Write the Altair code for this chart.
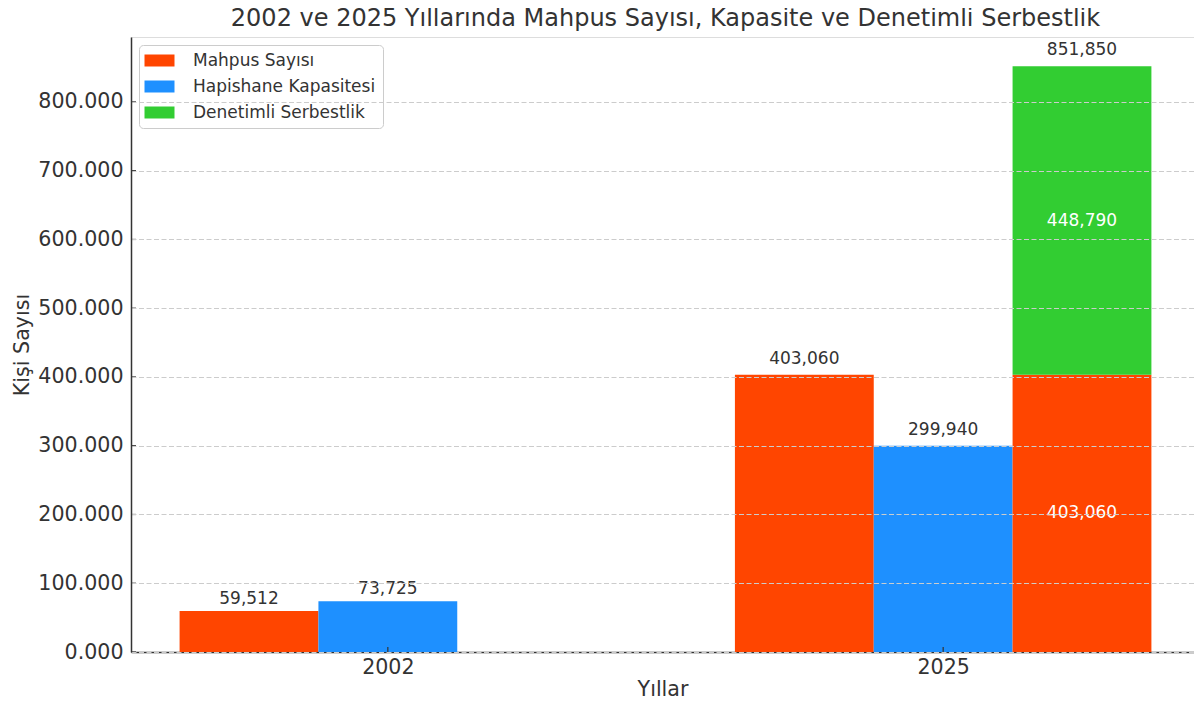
import altair as alt
import pandas as pd

# ---------------- data ----------------
years = ["2002", "2025"]
series = ["Mahpus Sayısı", "Hapishane Kapasitesi", "Denetimli Serbestlik"]
colors = ["#FF4500", "#1E90FF", "#32CD32"]
mahpus = [59512, 403060]
kapasite = [73725, 299940]
denetimli = [None, 448790]
y_ticks = [0, 100000, 200000, 300000, 400000, 500000, 600000, 700000, 800000]

BAR_W = 0.25
TEXT = "#333333"
FONT = "DejaVu Sans"
# label lift above bar tops, in data units, per year group (as in the original)
LABEL_PAD = [5000, 10000]

bars = []
labels_top = []
labels_in = []
for i, yr in enumerate(years):
    bars.append(dict(gi=i, slot=-1, series=series[0], y0=0, y1=mahpus[i]))
    labels_top.append(dict(gi=i, slot=-1, v=mahpus[i], txt=f"{mahpus[i]:,}"))
    bars.append(dict(gi=i, slot=0, series=series[1], y0=0, y1=kapasite[i]))
    labels_top.append(dict(gi=i, slot=0, v=kapasite[i], txt=f"{kapasite[i]:,}"))
    if denetimli[i] is not None:
        tot = mahpus[i] + denetimli[i]
        bars.append(dict(gi=i, slot=1, series=series[0], y0=0, y1=mahpus[i]))
        bars.append(dict(gi=i, slot=1, series=series[2], y0=mahpus[i], y1=tot))
        labels_top.append(dict(gi=i, slot=1, v=tot, txt=f"{tot:,}"))
        labels_in.append(dict(gi=i, slot=1, v=mahpus[i] / 2, txt=f"{mahpus[i]:,}"))
        labels_in.append(dict(gi=i, slot=1, v=mahpus[i] + denetimli[i] / 2, txt=f"{denetimli[i]:,}"))

bars_df = pd.DataFrame(bars)
top_df = pd.DataFrame(labels_top)
top_df["pad"] = [LABEL_PAD[g] for g in top_df["gi"]]
in_df = pd.DataFrame(labels_in)

ymax = max(b["y1"] for b in bars) * 1.05

# plot area sizes (page is narrower than the original figure by a few px)
W_REF, W, H = 1069, 1063, 615
xlo = -1.5 * BAR_W
xhi = (len(years) - 1) + 1.5 * BAR_W
span = xhi - xlo
px_per_unit = W_REF / (span * 1.1)
xdom = [xlo - 0.05 * span, xhi + 0.05 * span - (W_REF - W) / px_per_unit]

xscale = alt.Scale(domain=xdom, nice=False, zero=False)
yscale = alt.Scale(domain=[0, ymax], nice=False)

year_expr = " : ".join(f"datum.value == {i} ? '{y}'" for i, y in enumerate(years)) + " : ''"

x_axis = alt.Axis(
    values=list(range(len(years))), labelExpr=year_expr, title="Yıllar",
    grid=False, ticks=False, domainColor=TEXT, domainWidth=1.5,
    labelFontSize=20.6, labelColor=TEXT, labelFont=FONT, labelPadding=5,
    titleFontSize=20.6, titleFontWeight="normal", titleColor=TEXT, titleFont=FONT,
    titlePadding=2,
)
y_axis = alt.Axis(
    values=y_ticks, labelExpr="format(datum.value / 1000, 'd') + '.000'",
    title="Kişi Sayısı", grid=True, gridDash=[5, 2.5], gridColor="#cccccc", gridWidth=1,
    ticks=False, domainColor=TEXT, domainWidth=1.5,
    labelFontSize=20.6, labelColor=TEXT, labelFont=FONT, labelPadding=8,
    titleFontSize=20.6, titleFontWeight="normal", titleColor=TEXT, titleFont=FONT,
    titlePadding=5, zindex=1,
)

pos = dict(
    xa=f"datum.gi + datum.slot * {BAR_W} - {BAR_W / 2}",
    xb=f"datum.gi + datum.slot * {BAR_W} + {BAR_W / 2}",
)

bar_layer = alt.Chart(bars_df).transform_calculate(**pos).mark_bar(
    stroke=None, cornerRadius=0
).encode(
    x=alt.X("xa:Q", scale=xscale, axis=x_axis),
    x2="xb:Q",
    y=alt.Y("y0:Q", scale=yscale, axis=y_axis),
    y2="y1:Q",
    color=alt.Color(
        "series:N",
        scale=alt.Scale(domain=series, range=colors),
        legend=alt.Legend(
            title=None, orient="none", legendX=8, legendY=8,
            symbolType="M-2.5,-1H2.5V1H-2.5Z", symbolSize=144, symbolStrokeWidth=0,
            symbolOffset=5, labelOffset=25, labelFontSize=17, labelFont=FONT,
            labelColor=TEXT, labelLimit=400, rowPadding=8, padding=7,
            strokeColor="#cccccc", fillColor="white", cornerRadius=4,
        ),
    ),
)

top_layer = alt.Chart(top_df).transform_calculate(
    xm=f"datum.gi + datum.slot * {BAR_W}", ly="datum.v + datum.pad"
).mark_text(baseline="bottom", fontSize=17, font=FONT, color=TEXT).encode(
    x=alt.X("xm:Q", scale=xscale), y=alt.Y("ly:Q", scale=yscale), text="txt:N"
)

in_layer = alt.Chart(in_df).transform_calculate(
    xm=f"datum.gi + datum.slot * {BAR_W}"
).mark_text(baseline="middle", fontSize=17, font=FONT, color="white").encode(
    x=alt.X("xm:Q", scale=xscale), y=alt.Y("v:Q", scale=yscale), text="txt:N"
)

ytick_df = pd.DataFrame({"v": y_ticks})
ytick_layer = alt.Chart(ytick_df).mark_rule(color=TEXT, strokeWidth=1.2).encode(
    x=alt.value(0), x2=alt.value(5), y=alt.Y("v:Q", scale=yscale)
)
xtick_df = pd.DataFrame({"v": list(range(len(years)))})
xtick_layer = alt.Chart(xtick_df).mark_rule(color=TEXT, strokeWidth=1.2).encode(
    x=alt.X("v:Q", scale=xscale), y=alt.value(H), y2=alt.value(H - 5)
)

chart = alt.layer(bar_layer, top_layer, in_layer, ytick_layer, xtick_layer).properties(
    width=W, height=H,
    title=alt.TitleParams(
        "2002 ve 2025 Yıllarında Mahpus Sayısı, Kapasite ve Denetimli Serbestlik",
        fontSize=24, font=FONT, fontWeight="normal", color=TEXT, anchor="middle",
        baseline="alphabetic", offset=-13, dx=3,
    ),
    autosize=alt.AutoSizeParams(type="none"),
    padding={"left": 123, "top": 29, "right": 0, "bottom": 46},
).configure_view(stroke=None).configure(font=FONT)

chart.save("out.html", embed_options={"renderer": "svg", "actions": False})
